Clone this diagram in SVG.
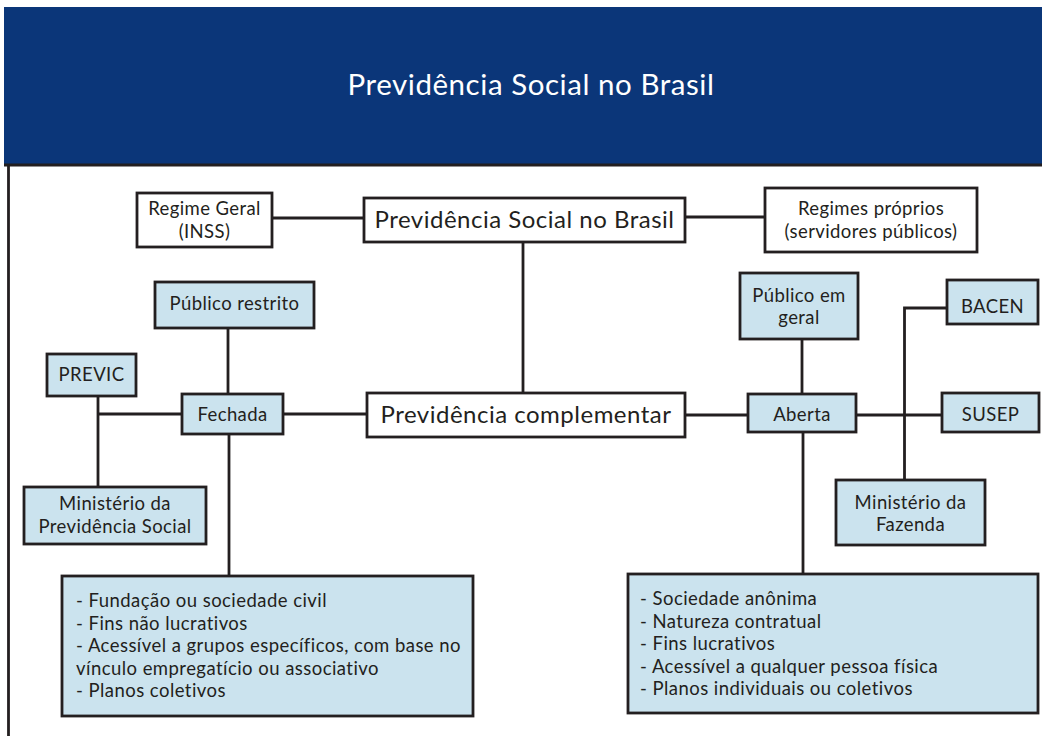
<svg xmlns="http://www.w3.org/2000/svg" width="1042" height="736" viewBox="0 0 1042 736">
<style>
.t{font-family:Lato,"Open Sans","Liberation Sans",sans-serif;fill:#231f20}
.s{font-size:18.5px;letter-spacing:0.4px;text-anchor:middle}
.b{font-size:24px;letter-spacing:0.5px;text-anchor:middle}
.l{font-size:18.5px;letter-spacing:0.45px}
.w{fill:#ffffff;stroke:#231f20;stroke-width:2.8}
.c{fill:#cbe3ee;stroke:#231f20;stroke-width:2.8}
.ln{stroke:#231f20;stroke-width:2.8;fill:none}
</style>
<rect x="0" y="0" width="1042" height="736" fill="#ffffff"/>
<g id="header">
<rect x="4" y="7" width="1038" height="157" fill="#0b3679"/>
<text x="531" y="95" font-family="Lato, Open Sans, Liberation Sans, sans-serif" font-size="29.5" letter-spacing="0.55" fill="#ffffff" text-anchor="middle">Previdência Social no Brasil</text>
</g>
<g id="frame" class="ln">
<line x1="4" y1="165" x2="1042" y2="165"/>
<line x1="8.5" y1="165" x2="8.5" y2="736"/>
</g>
<g id="connectors" class="ln">
<line x1="272" y1="218" x2="364" y2="218"/>
<line x1="685" y1="217" x2="765" y2="217"/>
<line x1="523" y1="242" x2="523" y2="393"/>
<line x1="228" y1="328" x2="228" y2="394"/>
<line x1="98" y1="414" x2="182" y2="414"/>
<line x1="283" y1="414" x2="367" y2="414"/>
<line x1="98" y1="396" x2="98" y2="487"/>
<line x1="229" y1="434" x2="229" y2="576"/>
<line x1="802" y1="339" x2="802" y2="394"/>
<line x1="685" y1="415" x2="748" y2="415"/>
<line x1="856" y1="415" x2="942" y2="415"/>
<polyline points="947,308 904.5,308 904.5,480"/>
<line x1="803" y1="432" x2="803" y2="574"/>
</g>
<g id="n-prev-social">
<rect class="w" x="364" y="198" width="321" height="44"/>
<text class="t b" x="524.5" y="228">Previdência Social no Brasil</text>
</g>
<g id="n-regime-geral">
<rect class="w" x="137" y="193" width="135" height="54"/>
<text class="t s" x="204.5" y="215">Regime Geral</text>
<text class="t s" x="204.5" y="237.5">(INSS)</text>
</g>
<g id="n-regimes-proprios">
<rect class="w" x="765" y="188" width="212" height="64"/>
<text class="t s" x="871" y="215">Regimes próprios</text>
<text class="t s" x="871" y="237.5">(servidores públicos)</text>
</g>
<g id="n-prev-complementar">
<rect class="w" x="367" y="393" width="318" height="44"/>
<text class="t b" x="526" y="423">Previdência complementar</text>
</g>
<g id="n-publico-restrito">
<rect class="c" x="155" y="282" width="159" height="46"/>
<text class="t s" x="234.5" y="310">Público restrito</text>
</g>
<g id="n-previc">
<rect class="c" x="47" y="354" width="89" height="42"/>
<text class="t s" x="91.5" y="381">PREVIC</text>
</g>
<g id="n-fechada">
<rect class="c" x="182" y="394" width="101" height="40"/>
<text class="t s" x="232.5" y="421">Fechada</text>
</g>
<g id="n-min-prev">
<rect class="c" x="24" y="487" width="182" height="57"/>
<text class="t s" x="115" y="510">Ministério da</text>
<text class="t s" x="115" y="533">Previdência Social</text>
</g>
<g id="n-fechada-info">
<rect class="c" x="62" y="576" width="411" height="140"/>
<text class="t l" x="76" y="607">- Fundação ou sociedade civil</text>
<text class="t l" x="76" y="629.5">- Fins não lucrativos</text>
<text class="t l" x="76" y="652">- Acessível a grupos específicos, com base no</text>
<text class="t l" x="76" y="674.5">vínculo empregatício ou associativo</text>
<text class="t l" x="76" y="697">- Planos coletivos</text>
</g>
<g id="n-publico-geral">
<rect class="c" x="740" y="273" width="118" height="66"/>
<text class="t s" x="799" y="301.5">Público em</text>
<text class="t s" x="799" y="324">geral</text>
</g>
<g id="n-aberta">
<rect class="c" x="748" y="394" width="108" height="38"/>
<text class="t s" x="802" y="421">Aberta</text>
</g>
<g id="n-bacen">
<rect class="c" x="947" y="280" width="91" height="44"/>
<text class="t s" x="992.5" y="313">BACEN</text>
</g>
<g id="n-susep">
<rect class="c" x="942" y="393" width="97" height="39"/>
<text class="t s" x="990.5" y="421">SUSEP</text>
</g>
<g id="n-min-fazenda">
<rect class="c" x="836" y="480" width="149" height="65"/>
<text class="t s" x="910.5" y="508.5">Ministério da</text>
<text class="t s" x="910.5" y="531">Fazenda</text>
</g>
<g id="n-aberta-info">
<rect class="c" x="628" y="574" width="410" height="139"/>
<text class="t l" x="640" y="605">- Sociedade anônima</text>
<text class="t l" x="640" y="627.5">- Natureza contratual</text>
<text class="t l" x="640" y="650">- Fins lucrativos</text>
<text class="t l" x="640" y="672.5">- Acessível a qualquer pessoa física</text>
<text class="t l" x="640" y="695">- Planos individuais ou coletivos</text>
</g>
</svg>
